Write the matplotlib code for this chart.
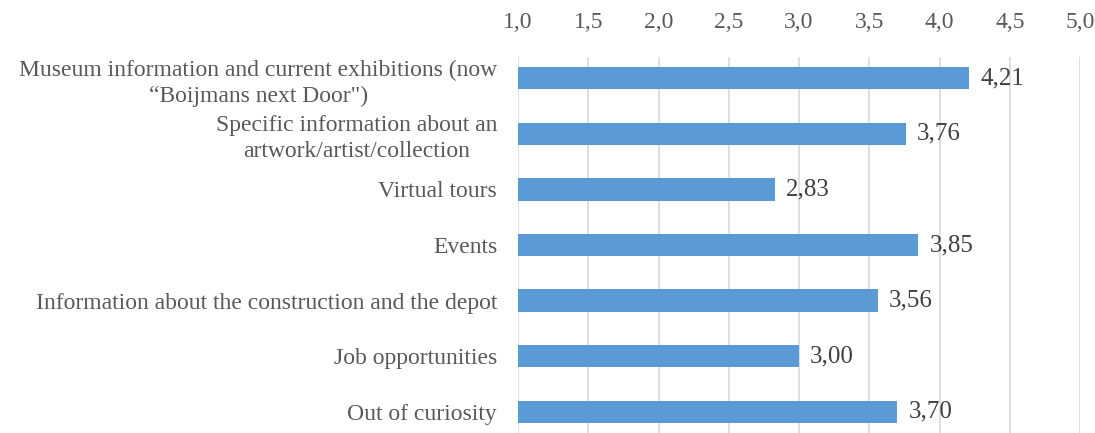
import numpy as np
import matplotlib.pyplot as plt

# Data
categories = ['Museum information and current exhibitions (now\n\u201cBoijmans next Door")',
              'Specific information about an\nartwork/artist/collection',
              'Virtual tours',
              'Events',
              'Information about the construction and the depot',
              'Job opportunities',
              'Out of curiosity']
scores = [4.21, 3.76, 2.83, 3.85, 3.56, 3.00, 3.70]
xticks = [1.0, 1.5, 2.0, 2.5, 3.0, 3.5, 4.0, 4.5, 5.0]

plt.rcParams['font.family'] = ['Liberation Serif', 'DejaVu Serif']

fig = plt.figure(figsize=(10.95, 4.33), dpi=100)
ax = fig.add_axes([518 / 1095, 0, (1080 - 518) / 1095, (433 - 57) / 433])

y = np.arange(len(categories))
base = 1.0
ax.barh(y, np.array(scores) - base, left=base, height=0.4, color='#5b9bd5', zorder=3)

# value labels, comma decimal
for yi, v in zip(y, scores):
    ax.annotate(('%.2f' % v).replace('.', ','), xy=(v, yi), xytext=(8, 0),
                textcoords='offset points', va='center', ha='left',
                fontsize=18, color='#404040')

ax.set_xlim(1.0, 5.0)
ax.set_ylim(len(categories) - 1 + 0.38, -0.38)
ax.set_xticks(xticks)
ax.set_xticklabels([('%.1f' % t).replace('.', ',') for t in xticks])
ax.xaxis.tick_top()
ax.set_yticks(y)
ax.set_yticklabels(categories, multialignment='center', linespacing=1.3)
ax.tick_params(axis='both', length=0, labelsize=17, labelcolor='#595959')
ax.tick_params(axis='x', pad=17)
ax.tick_params(axis='y', pad=15)
ax.grid(axis='x', color='#d9d9d9', linewidth=1.2, zorder=0)
for s in ax.spines.values():
    s.set_visible(False)

fig.savefig('out.png', dpi=100)
